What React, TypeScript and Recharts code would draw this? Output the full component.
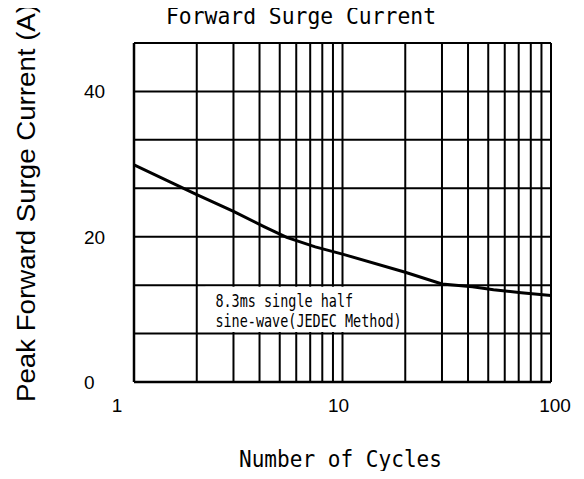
import {
  LineChart,
  Line,
  XAxis,
  YAxis,
  CartesianGrid,
  ReferenceArea,
  Label,
} from "recharts";

// values
const cycles = [1, 2, 3, 4.2, 5.4, 7.4, 10, 20, 30, 42, 53, 72, 100];
const surgeCurrent = [29.9, 25.8, 23.5, 21.4, 19.9, 18.6, 17.6, 15.1, 13.5, 13.1, 12.7, 12.3, 11.9];

const xGridTicks = [1, 2, 3, 4, 5, 6, 7, 8, 9, 10, 20, 30, 40, 50, 60, 70, 80, 90, 100];
const xTickLabels = [1, 10, 100];
const yGridTicks = [0, 20 / 3, 40 / 3, 20, 80 / 3, 100 / 3, 40, 140 / 3];
const yTickLabels = [0, 20, 40];

const noteLines = ["8.3ms single half", "sine-wave(JEDEC Method)"];

const data = cycles.map((c, i) => ({ cycles: c, current: surgeCurrent[i] }));

const MONO = "'DejaVu Sans Mono', monospace";
const SANS = "'Liberation Sans', Arial, sans-serif";

// the original labels sit a little off their grid lines
const xLabelShift: Record<number, number> = { 1: -17, 10: -4, 100: 4 };

const XTick = ({ x, y, payload }: any) => {
  if (!xTickLabels.includes(payload.value)) return <g />;
  return (
    <text
      x={x + (xLabelShift[payload.value] ?? 0)}
      y={y + 30}
      textAnchor="middle"
      fontFamily={SANS}
      fontSize={19}
      fill="#000"
    >
      {payload.value}
    </text>
  );
};

const YTick = ({ x, y, payload }: any) => {
  const v = Math.round(payload.value * 100) / 100;
  if (!yTickLabels.includes(v)) return <g />;
  return (
    <text x={x - 50} y={y + 7} textAnchor="start" fontFamily={SANS} fontSize={19} fill="#000">
      {v}
    </text>
  );
};

const NoteLabel = ({ viewBox }: any) => {
  if (!viewBox) return null;
  return (
    <g>
      {noteLines.map((t, i) => (
        <text
          key={i}
          x={viewBox.x + 10}
          y={viewBox.y + 20 + i * 20}
          fontFamily={MONO}
          fontSize={17}
          fill="#000"
          textLength={t.length * 8.1}
          lengthAdjust="spacingAndGlyphs"
        >
          {t}
        </text>
      ))}
    </g>
  );
};

export default function App() {
  return (
    <div style={{ margin: -8, background: "#fff" }}>
      <LineChart
        width={584}
        height={479}
        data={data}
        margin={{ top: 43, right: 33, left: 54, bottom: 37 }}
      >
        <text
          x={301}
          y={24}
          textAnchor="middle"
          fontFamily={MONO}
          fontSize={23}
          fill="#000"
          textLength={270}
          lengthAdjust="spacingAndGlyphs"
        >
          Forward Surge Current
        </text>
        <CartesianGrid stroke="#000" strokeWidth={2} />
        <XAxis
          dataKey="cycles"
          type="number"
          scale="log"
          domain={[1, 100]}
          ticks={xGridTicks}
          interval={0}
          allowDataOverflow
          height={60}
          tickSize={0}
          tickMargin={0}
          tickLine={false}
          axisLine={{ stroke: "#000", strokeWidth: 2.5 }}
          tick={<XTick />}
        >
          <Label
            content={() => (
              <text
                x={340.5}
                y={467}
                textAnchor="middle"
                fontFamily={MONO}
                fontSize={23}
                fill="#000"
                textLength={203}
                lengthAdjust="spacingAndGlyphs"
              >
                Number of Cycles
              </text>
            )}
          />
        </XAxis>
        <YAxis
          type="number"
          domain={[0, 140 / 3]}
          ticks={yGridTicks}
          interval={0}
          width={80}
          tickSize={0}
          tickMargin={0}
          tickLine={false}
          axisLine={{ stroke: "#000", strokeWidth: 2.5 }}
          tick={<YTick />}
        >
          <Label
            content={() => (
              <text
                x={35}
                y={203}
                transform="rotate(-90 35 203)"
                textAnchor="middle"
                fontFamily={SANS}
                fontSize={26}
                fill="#000"
                textLength={398}
                lengthAdjust="spacingAndGlyphs"
              >
                Peak Forward Surge Current (A)
              </text>
            )}
          />
        </YAxis>
        <ReferenceArea
          x1={2.2}
          x2={19.5}
          y1={6.9}
          y2={13.1}
          fill="#fff"
          fillOpacity={1}
          stroke="none"
          label={<NoteLabel />}
        />
        <Line
          type="linear"
          dataKey="current"
          stroke="#000"
          strokeWidth={3}
          dot={false}
          isAnimationActive={false}
        />
      </LineChart>
    </div>
  );
}
